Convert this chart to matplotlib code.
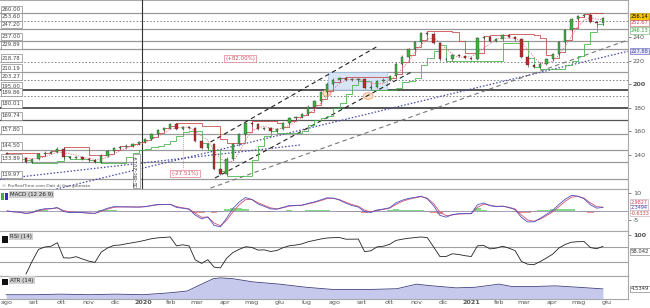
import matplotlib
matplotlib.use('Agg')
import matplotlib.pyplot as plt
import matplotlib.dates as mdates
import matplotlib.transforms as mtrans
from matplotlib.patches import Rectangle, Ellipse
import numpy as np
import pandas as pd

# weekly closes (Aug 2019 - May 2021)
weeks = pd.date_range('2019-08-02', periods=96, freq='W-FRI')
close = [140, 138, 137.5, 134.5, 136.5, 140.5, 142, 142.5, 145.5, 138,
         137.8, 138.5, 137, 135.5, 134.5, 139.5, 143, 146, 146.5, 148,
         149.5, 151, 153.5, 157.5, 161, 163, 166, 162, 163.5, 163,
         152, 146, 149, 128, 124, 137, 149, 158, 167, 166,
         162, 162.5, 160.5, 162, 167, 171, 172.5, 175, 181, 186,
         193, 200.5, 204, 205, 204, 204, 204.5, 197, 198, 203,
         204, 207, 217.5, 223.5, 230, 236, 243.5, 243, 235, 221,
         221, 225, 224, 222.5, 221.5, 239, 240, 236.5, 238, 241.5,
         240, 238, 223.5, 216, 214.6, 217.5, 221, 225.5, 236, 246,
         255.5, 258, 258.5, 252.7, 251.5, 256.14]
first_open = 141.5

# horizontal levels drawn on the chart
levels = [260.00, 253.60, 247.20, 237.00, 229.89, 218.78, 210.19, 203.27,
          195.00, 189.86, 180.01, 169.74, 157.80, 144.50, 133.89, 119.97]
level_styles = ['-', ':', '-', '-', '-', ':', '-', ':',
                '-', ':', '-', '-', '-', '-', '-', '-']
level_dark = [195.00, 180.01, 169.74]

# trend lines (start date, start price, end date, end price)
blue_lines = [('2019-07-25', 119.5, '2020-06-24', 148.5),
              ('2019-09-26', 111.2, '2021-06-25', 228.0)]
black_dashed = [('2020-03-16', 151.0, '2020-09-19', 232.4),
                ('2020-03-21', 120.5, '2020-10-26', 210.3)]
gray_dashed = [('2020-03-16', 112.0, '2021-06-25', 237.5)]

# ATR (14) read roughly month by month
atr_dates = pd.to_datetime(['2019-08-01', '2019-09-01', '2019-10-01', '2019-11-01',
                            '2019-12-01', '2020-01-01', '2020-02-01', '2020-02-19',
                            '2020-03-04', '2020-03-19', '2020-03-27', '2020-04-10',
                            '2020-05-02', '2020-06-01', '2020-07-01', '2020-08-01',
                            '2020-09-05', '2020-10-10', '2020-11-01', '2020-11-15',
                            '2020-12-15', '2021-01-05', '2021-02-01', '2021-02-15',
                            '2021-03-15', '2021-04-05', '2021-05-01', '2021-05-28'])
atr_vals = [2.5, 2.5, 2.7, 2.5, 2.7, 2.5, 3.2, 3.8, 5.9, 8.1, 8.4, 8.1, 7.0, 6.2,
            5.1, 4.3, 4.3, 4.6, 6.2, 5.7, 4.9, 5.1, 6.2, 5.4, 5.4, 5.6, 5.1, 4.5349]

month_ticks = pd.date_range('2019-08-01', '2021-06-01', freq='MS')
month_names = ['gen', 'feb', 'mar', 'apr', 'mag', 'giu', 'lug', 'ago', 'set', 'ott', 'nov', 'dic']

fig = plt.figure(figsize=(6.5, 3.08), dpi=100)
W, H = 650.0, 308.0
right = 628 / W
ax = fig.add_axes([0, 1 - 189 / H, right, 189 / H])
ax_m = fig.add_axes([0, 1 - 231 / H, right, 42 / H], sharex=ax)
ax_r = fig.add_axes([0, 1 - 276 / H, right, 45 / H], sharex=ax)
ax_a = fig.add_axes([0, 1 - 299 / H, right, 23 / H], sharex=ax)

xmin, xmax = pd.Timestamp('2019-07-25'), pd.Timestamp('2021-06-25')
fs = 4.6
for a in (ax, ax_m, ax_r, ax_a):
    a.set_xlim(xmin, xmax)
    for sp in a.spines.values():
        sp.set_color('#a8a8a8')
        sp.set_linewidth(0.8)
    a.spines['left'].set_visible(False)
    a.yaxis.tick_right()
    a.tick_params(axis='y', labelsize=fs, length=2, pad=1.5, colors='#555555', width=0.5)
    a.tick_params(axis='x', length=0, labelbottom=False)

# ---- price panel ----
ax.set_ylim(111.2, 271.4)
ax.set_yticks([140, 160, 180, 200, 220, 240])
ax.set_yticklabels(['140', '160', '180', '200', '220', '240'])
for t in ax.get_yticklabels():
    if t.get_text() == '200':
        t.set_fontweight('bold')

blend = mtrans.blended_transform_factory(ax.transAxes, ax.transData)
for lv, st in zip(levels, level_styles):
    col = '#555555' if lv in level_dark else '#9a9a9a'
    lw = 1.4 if lv in (195.00, 180.01) else 0.9
    if st == ':':
        ax.axhline(lv, color='#808080', lw=0.7, ls=(0, (1.5, 2)), zorder=1)
    else:
        ax.axhline(lv, color=col, lw=lw, zorder=1)
    ax.text(0.003, lv + 1.3, f'{lv:.2f}', transform=blend, fontsize=3.9, color='#444444',
            va='bottom', ha='left', zorder=6,
            bbox=dict(boxstyle='square,pad=0.25', fc='white', ec='#888888', lw=0.5))

# consolidation box and markers
ax.add_patch(Rectangle((mdates.datestr2num('2020-07-25'), 195.1),
                       mdates.datestr2num('2020-09-29') - mdates.datestr2num('2020-07-25'),
                       15.2, fc='#d4e3f6', ec='#9ab8e0', lw=0.5, alpha=0.9, zorder=2))
for d, p, w in [('2020-07-24', 192.5, 9), ('2020-09-08', 190.0, 11)]:
    ax.add_patch(Ellipse((mdates.datestr2num(d), p), w, 5.5, fc='#fbe3d0', ec='#f0a070',
                         lw=0.6, zorder=2))

for d0, p0, d1, p1 in blue_lines:
    ax.plot(pd.to_datetime([d0, d1]), [p0, p1], color='#4a4aa8', lw=0.9, ls=(0, (1.2, 1.5)), zorder=3)
for d0, p0, d1, p1 in black_dashed:
    ax.plot(pd.to_datetime([d0, d1]), [p0, p1], color='#222222', lw=0.8, ls=(0, (4, 3)), zorder=3)
for d0, p0, d1, p1 in gray_dashed:
    ax.plot(pd.to_datetime([d0, d1]), [p0, p1], color='#777777', lw=0.8, ls=(0, (4, 3)), zorder=3)

s = pd.Series(close, index=weeks)
opens = np.r_[first_open, s.values[:-1]]
up_line = s.rolling(4, min_periods=1).max().shift(1).bfill()
dn_line = s.rolling(4, min_periods=1).min().shift(1).bfill()
sma = s.rolling(4, min_periods=1).mean()
ax.step(weeks, up_line.values + 1.5, where='post', color='#c84040', lw=0.55, zorder=4)
ax.step(weeks, dn_line.values - 1.5, where='post', color='#40b040', lw=0.55, zorder=4)
ax.plot(weeks, sma.values, color='#e07080', lw=0.6, ls=(0, (1.5, 1.5)), zorder=4)

body_lo = np.minimum(opens, s.values)
body_h = np.maximum(np.abs(s.values - opens), 0.6)
cols = np.where(s.values >= opens, '#3cb43c', '#c02828')
ax.vlines(weeks, body_lo - 1.0, body_lo + body_h + 1.0, color='#303030', lw=0.4, zorder=5)
ax.bar(weeks, body_h, bottom=body_lo, width=2.6, color=cols, edgecolor='#303030',
       linewidth=0.25, zorder=5)

ax.axvline(pd.Timestamp('2019-12-31'), color='#333333', lw=0.8, zorder=3)
ax.text(pd.Timestamp('2019-12-27'), 113.0, '31-dic-2019', rotation=90, fontsize=3.8,
        color='#333333', ha='right', va='bottom', zorder=6,
        bbox=dict(boxstyle='square,pad=0.2', fc='white', ec='#888888', lw=0.5))
ax.plot(pd.to_datetime(['2020-02-14', '2020-02-14']), [164, 128], color='#e07080',
        lw=0.6, ls=(0, (1, 1.5)), zorder=3)
ax.text(pd.Timestamp('2020-02-17'), 124.3, '(-27.51%)', fontsize=4.0, color='#d05060',
        ha='center', va='center', zorder=6,
        bbox=dict(boxstyle='square,pad=0.25', fc='white', ec='#e08090', lw=0.5))
ax.text(pd.Timestamp('2020-04-18'), 221.8, '(+82.00%)', fontsize=4.0, color='#d05060',
        ha='center', va='center', zorder=6,
        bbox=dict(boxstyle='square,pad=0.25', fc='white', ec='#e08090', lw=0.5))
ax.text(0.003, 0.004, '\u00a9 ProRealTime.com Dati di fine giornata', transform=ax.transAxes,
        fontsize=3.2, color='#555555', ha='left', va='bottom', zorder=6)

# right-side value tags
rb = mtrans.blended_transform_factory(ax.transAxes, ax.transData)
tags = [(257.5, '256.14', 'black', '#f5c800', '#b09000'),
        (252.0, '252.67', '#d04060', 'white', '#d07080'),
        (245.5, '246.13', '#30a030', 'white', '#80c080'),
        (228.0, '227.88', '#4040a0', '#e6e6f8', '#7070c0')]
for p, txt, tc, fc, ec in tags:
    ax.text(1.004, p, txt, transform=rb, fontsize=3.7, color=tc, ha='left', va='center',
            clip_on=False, zorder=7, bbox=dict(boxstyle='square,pad=0.15', fc=fc, ec=ec, lw=0.5))

# ---- MACD panel ----
ema_f = s.ewm(span=2.4, adjust=False).mean()
ema_s = s.ewm(span=5.2, adjust=False).mean()
macd = ema_f - ema_s
signal = macd.ewm(span=1.8, adjust=False).mean()
hist = macd - signal
ax_m.set_ylim(-11.1, 12.2)
ax_m.set_yticks([10, -5])
ax_m.set_yticklabels(['10', '-5'])
ax_m.axhline(0, color='#9090b0', lw=0.6)
ax_m.bar(weeks, hist.values, width=7, color=np.where(hist.values >= 0, '#6fd06f', '#e88080'),
         alpha=0.85, lw=0)
ax_m.plot(weeks, signal.values, color='#d05070', lw=0.6)
ax_m.plot(weeks, macd.values, color='#5050c0', lw=0.6)
mb = mtrans.blended_transform_factory(ax_m.transAxes, ax_m.transAxes)
for yy, txt, tc in [(0.69, '2.9827', '#d04060'), (0.555, '2.3494', '#4040b0'), (0.42, '-0.6333', '#d04040')]:
    ax_m.text(1.004, yy, txt, transform=mb, fontsize=3.5, color=tc, ha='left', va='center',
              clip_on=False, bbox=dict(boxstyle='square,pad=0.12', fc='white', ec='#c0a0b0', lw=0.4))
ax_m.text(0.016, 0.93, 'MACD (12 26 9)', transform=ax_m.transAxes, fontsize=4.0, color='#222222',
          ha='left', va='top', bbox=dict(boxstyle='square,pad=0.2', fc='#d0d0d0', ec='none'))
ax_m.add_patch(Rectangle((0.002, 0.74), 0.005, 0.17, transform=ax_m.transAxes, fc='#40b040', ec='none'))
ax_m.add_patch(Rectangle((0.008, 0.74), 0.005, 0.17, transform=ax_m.transAxes, fc='#3030c0', ec='none'))

# ---- RSI panel ----
delta = s.diff()
gain = delta.clip(lower=0).ewm(alpha=1 / 6, adjust=True, min_periods=3).mean()
loss = (-delta.clip(upper=0)).ewm(alpha=1 / 6, adjust=True, min_periods=3).mean()
rsi = 100 - 100 / (1 + gain / loss)
ax_r.set_ylim(-5, 110)
ax_r.set_yticks([100])
ax_r.set_yticklabels(['100'], fontweight='bold')
ax_r.axhline(70, color='#a0a0a0', lw=0.8)
ax_r.axhline(30, color='#a0a0a0', lw=0.8)
ax_r.plot(weeks, rsi.values, color='#222222', lw=0.6)
ax_r.text(1.004, 58.042, '58.042', transform=mtrans.blended_transform_factory(ax_r.transAxes, ax_r.transData),
          fontsize=3.8, color='#333333', ha='left', va='center', clip_on=False,
          bbox=dict(boxstyle='square,pad=0.15', fc='white', ec='#888888', lw=0.5))
ax_r.text(0.016, 0.93, 'RSI (14)', transform=ax_r.transAxes, fontsize=4.0, color='#222222',
          ha='left', va='top', bbox=dict(boxstyle='square,pad=0.2', fc='#d0d0d0', ec='none'))
ax_r.add_patch(Rectangle((0.003, 0.74), 0.009, 0.14, transform=ax_r.transAxes, fc='#111111', ec='none'))

# ---- ATR panel ----
ax_a.set_ylim(1.0, 9.05)
ax_a.set_yticks([])
ax_a.fill_between(atr_dates, 1.0, atr_vals, color='#b8bce8', alpha=0.8, lw=0)
ax_a.plot(atr_dates, atr_vals, color='#404080', lw=0.6)
ax_a.text(1.004, 4.5349, '4.5349', transform=mtrans.blended_transform_factory(ax_a.transAxes, ax_a.transData),
          fontsize=3.8, color='#333333', ha='left', va='center', clip_on=False,
          bbox=dict(boxstyle='square,pad=0.15', fc='white', ec='#888888', lw=0.5))
ax_a.text(0.016, 0.93, 'ATR (14)', transform=ax_a.transAxes, fontsize=4.0, color='#222222',
          ha='left', va='top', bbox=dict(boxstyle='square,pad=0.2', fc='#d0d0d0', ec='none'))
ax_a.add_patch(Rectangle((0.003, 0.62), 0.009, 0.25, transform=ax_a.transAxes, fc='#111111', ec='none'))

# month labels
ax_a.set_xticks(month_ticks)
labels = [str(d.year) if d.month == 1 else month_names[d.month - 1] for d in month_ticks]
ax_a.set_xticklabels(labels)
ax_a.tick_params(axis='x', labelbottom=True, labelsize=fs, colors='#555555', pad=0.8)
for t in ax_a.get_xticklabels():
    if t.get_text().isdigit():
        t.set_fontweight('bold')

fig.savefig('out.png', dpi=100)
